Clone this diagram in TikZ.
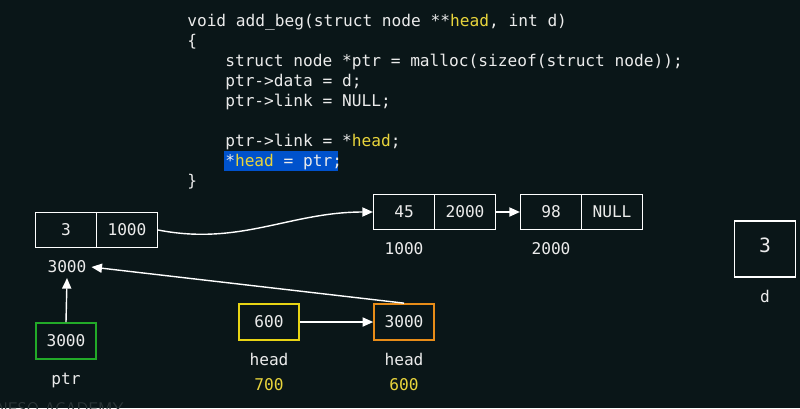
\documentclass[tikz,border=0pt]{standalone}
\usepackage{fontspec}
\setmainfont{DejaVu Sans}
\setmonofont{DejaVu Sans Mono}
\usetikzlibrary{arrows.meta}
\definecolor{bgdark}{RGB}{10,22,24}
\definecolor{codeyellow}{RGB}{232,212,60}
\definecolor{hlblue}{RGB}{0,82,204}
\definecolor{boxgreen}{RGB}{34,170,40}
\definecolor{boxyellow}{RGB}{232,212,20}
\definecolor{boxorange}{RGB}{232,140,24}
\definecolor{wmgray}{RGB}{44,54,56}
\begin{document}
\begin{tikzpicture}[x=0.025cm,y=-0.025cm,font=\ttfamily\fontsize{11.5}{13}\selectfont,
    every node/.style={text=white!92!black},
    code/.style={anchor=base west,inner sep=0pt},
    cell/.style={draw=white,line width=1pt,minimum width=1.52cm,minimum height=0.88cm,inner sep=0pt},
    var/.style={draw,line width=1.2pt,minimum width=1.5cm,minimum height=0.9cm,inner sep=0pt},
    link/.style={-{Triangle[length=7.5pt,width=6.5pt]},white,line width=1pt}]
    \clip (0,0) rectangle (800,408);
    \fill [bgdark] (0,0) rectangle (800,408);
    % code
    \node [code] (l1) at (187,26) {void add\_beg(struct node **\textcolor{codeyellow}{head}, int d)};
    \node [code] (l2) at (187,46) {\{};
    \node [code] (l3) at (225,66) {struct node *ptr = malloc(sizeof(struct node));};
    \node [code] (l4) at (225,86) {ptr->data = d;};
    \node [code] (l5) at (225,106) {ptr->link = NULL;};
    \node [code] (l6) at (225,146) {ptr->link = *\textcolor{codeyellow}{head};};
    \fill [hlblue] (224,151) rectangle (338,171);
    \node [code] (l7) at (225,166) {*\textcolor{codeyellow}{head} = ptr;};
    \node [code] (l8) at (187,186) {\}};
    % list
    \node [cell] (n1d) at (66,230) {3};
    \node [cell] (n1l) at (127,230) {1000};
    \node (a3000) at (67,267) {3000};
    \node [cell] (n2d) at (404,212) {45};
    \node [cell] (n2l) at (465,212) {2000};
    \node (a1000) at (404,249) {1000};
    \node [cell] (n3d) at (551,212) {98};
    \node [cell] (n3l) at (612,212) {NULL};
    \node (a2000) at (551,249) {2000};
    \draw [link] (n1l.east) .. controls (240,246) and (290,212) .. (n2d.west);
    \draw [link] (n2l.east) -- (n3d.west);
    % variables
    \node [draw=white,line width=1pt,minimum width=1.52cm,minimum height=1.4cm,
        font=\ttfamily\fontsize{14}{16}\selectfont] (dbox) at (765,249) {\raisebox{6pt}{3}};
    \node (dname) at (765,296) {d};
    \node [var,draw=boxgreen] (ptr) at (66,341) {3000};
    \node (pname) at (66,380) {ptr};
    \node [var,draw=boxyellow] (head1) at (269,322) {600};
    \node (h1name) at (269,359) {head};
    \node (h1addr) at (269,385) [text=codeyellow] {700};
    \node [var,draw=boxorange] (head2) at (404,322) {3000};
    \node (h2name) at (404,359) {head};
    \node (h2addr) at (404,385) [text=codeyellow] {600};
    \draw [link] (ptr.north) -- (a3000.south);
    \draw [link] (head1.east) -- (head2.west);
    \draw [link] (head2.north) -- (a3000.east);
    \node [anchor=base west,inner sep=0pt,text=wmgray,font=\sffamily\fontsize{12}{12}\selectfont] (wm) at (-4,414) {NESO ACADEMY};
\end{tikzpicture}
\end{document}
